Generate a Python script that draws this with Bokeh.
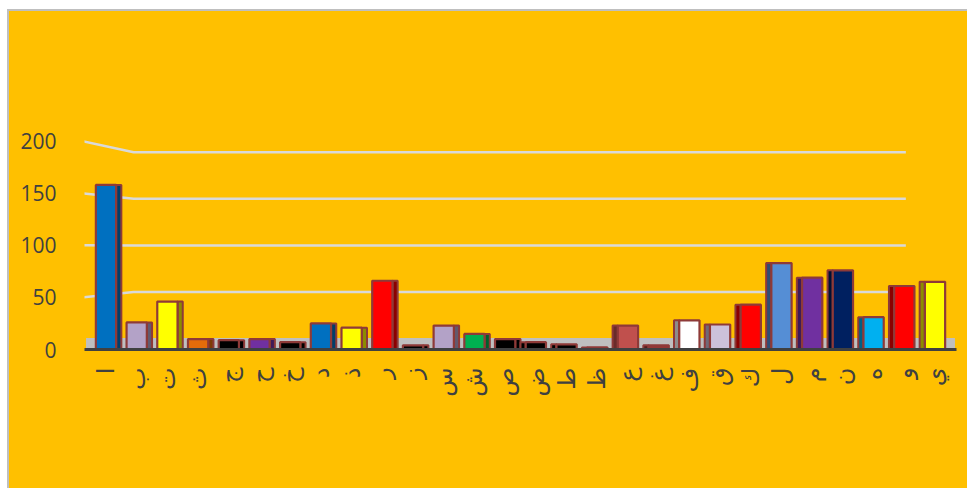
import math
from bokeh.plotting import figure
from bokeh.models import ColumnDataSource, Range1d, FixedTicker
from bokeh.embed import file_html
from bokeh.resources import INLINE

# ---- data ----
letters = ["ا", "ب", "ت", "ث", "ج", "ح", "خ", "د", "ذ", "ر", "ز", "س", "ش", "ص",
           "ض", "ط", "ظ", "ع", "غ", "ف", "ق", "ك", "ل", "م", "ن", "ه", "و", "ي"]
counts = [158, 26, 46, 10, 9, 10, 7, 25, 21, 66, 4, 23, 15, 10,
          7, 5, 2, 23, 4, 28, 24, 43, 83, 69, 76, 31, 61, 65]
face_colors = ["#0070C0", "#B3A2C7", "#FFFF00", "#E46C0A", "#000000", "#7030A0", "#000000",
               "#0070C0", "#FFFF00", "#FF0000", "#000000", "#B3A2C7", "#00B050", "#000000",
               "#000000", "#000000", "#953735", "#C0504D", "#953735", "#FFFFFF", "#CCC1DA",
               "#FF0000", "#558ED5", "#7030A0", "#002060", "#00B0F0", "#FF0000", "#FFFF00"]
y_ticks = [0, 50, 100, 150, 200]

GOLD = "#FFC000"
OUTLINE = "#8E3A38"
TEXT = "#404040"


def shade(c, f=0.55):
    c = c.lstrip("#")
    r, g, b = (int(c[i:i + 2], 16) for i in (0, 2, 4))
    return "#%02x%02x%02x" % (int(r * f), int(g * f), int(b * f))


n = len(letters)
positions = list(range(1, n + 1))
center = (n + 1) / 2
FRONT_W = 0.66
SIDE_W = 0.17
side_x = [x + (FRONT_W / 2 + SIDE_W / 2) * (1 if x < center else -1) for x in positions]

src = ColumnDataSource(dict(
    x=positions, top=counts, color=face_colors,
    side_x=side_x, side_color=[shade(c) for c in face_colors],
))

p = figure(width=960, height=479,
           x_range=Range1d(0.3, n + 0.7), y_range=Range1d(0, 290),
           output_backend="svg", toolbar_location=None,
           min_border_left=75, min_border_right=13,
           min_border_top=36, min_border_bottom=141)
p.background_fill_color = GOLD
p.border_fill_color = GOLD
p.outline_line_color = None
p.xgrid.visible = False
p.ygrid.visible = False
p.styles = {
    "margin-left": "7px",
    "margin-top": "9px",
    "border-left": "2px solid #BFBFBF",
    "border-top": "2px solid #BFBFBF",
    "background-color": GOLD,
}

# floor of the 3-D chart
p.quad(left=0.35, right=n + 0.65, bottom=0, top=11, fill_color="#BFBFBF", line_color=None)

# perspective gridlines on the back wall
grid_vals = [v for v in y_ticks if v > 0]
gx = [[0.25, 1.9, n - 0.95] for v in grid_vals]
gy = [[v, 0.895 * v + 10.4, 0.895 * v + 10.4] for v in grid_vals]
p.multi_line(gx, gy, line_color="#D9D9D9", line_width=2.5)

# columns: side face then front face
p.vbar(x="side_x", top="top", bottom=0, width=SIDE_W, source=src,
       fill_color="side_color", line_color=OUTLINE, line_width=2)
p.vbar(x="x", top="top", bottom=0, width=FRONT_W, source=src,
       fill_color="color", line_color=OUTLINE, line_width=2.2)

# x axis
p.xaxis.ticker = FixedTicker(ticks=positions)
p.xaxis.major_label_overrides = {x: l for x, l in zip(positions, letters)}
p.xaxis.major_label_orientation = math.pi / 2
p.xaxis.major_label_text_font = "DejaVu Sans"
p.xaxis.major_label_text_font_size = "24px"
p.xaxis.major_label_text_color = TEXT
p.xaxis.major_label_standoff = 12
p.xaxis.axis_line_color = TEXT
p.xaxis.axis_line_width = 3
p.xaxis.major_tick_line_color = None
p.xaxis.minor_tick_line_color = None

# y axis
p.yaxis.ticker = FixedTicker(ticks=y_ticks)
p.yaxis.axis_line_color = None
p.yaxis.major_tick_line_color = None
p.yaxis.minor_tick_line_color = None
p.yaxis.major_label_text_font = "Open Sans"
p.yaxis.major_label_text_font_size = "21px"
p.yaxis.major_label_text_color = TEXT
p.yaxis.major_label_standoff = 22

open("out.html", "w").write(file_html(p, INLINE))
